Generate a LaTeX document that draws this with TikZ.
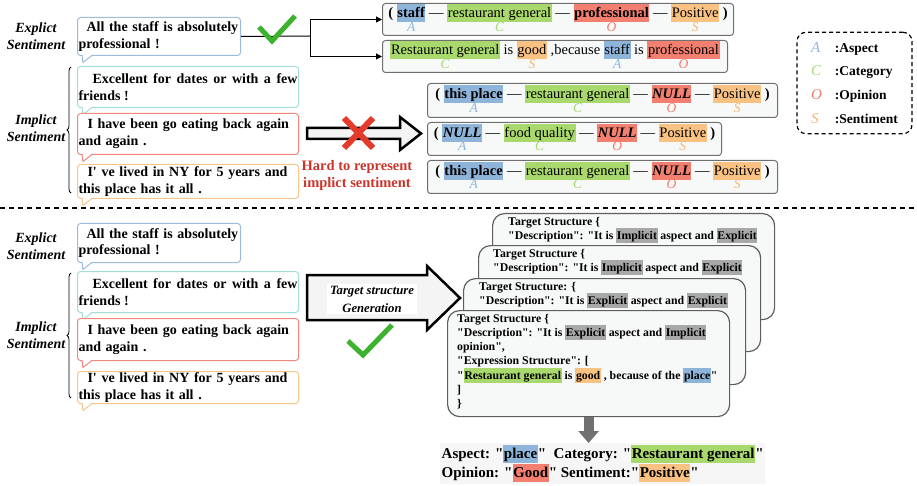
\documentclass[tikz,border=0pt]{standalone}
\usepackage{fontspec}
\setmainfont{Liberation Serif}[Ligatures=TeXOff]
\usepackage{xcolor}
\usetikzlibrary{calc,positioning,arrows.meta,decorations.pathreplacing}

\definecolor{asp}{HTML}{8FB4DA}
\definecolor{cat}{HTML}{A9D96C}
\definecolor{opi}{HTML}{F27F70}
\definecolor{sen}{HTML}{F9C283}
\definecolor{aspL}{HTML}{8CB6E0}
\definecolor{catL}{HTML}{A6D874}
\definecolor{opiL}{HTML}{F07A6C}
\definecolor{senL}{HTML}{F5B674}
\definecolor{bubA}{HTML}{9DBCDC}
\definecolor{bubB}{HTML}{A3DDDB}
\definecolor{bubC}{HTML}{EF877E}
\definecolor{bubD}{HTML}{F7C48C}
\definecolor{boxline}{HTML}{6F6F6F}
\definecolor{boxfill}{HTML}{F7F8F8}
\definecolor{cardline}{HTML}{5E5E5E}
\definecolor{hlg}{HTML}{A8A8A8}
\definecolor{okgreen}{HTML}{3DB22F}
\definecolor{nored}{HTML}{E23B2C}
\definecolor{hardred}{HTML}{C9352B}
\definecolor{arrowfill}{HTML}{F4F4F4}
\definecolor{downgray}{HTML}{707070}
\definecolor{resfill}{HTML}{F6F6F6}

\newcommand{\dsh}{\textemdash}
\newcommand{\hlx}[2]{{\setlength{\fboxsep}{0.6pt}\colorbox{#1}{\rule[-0.26em]{0pt}{1.16em}#2}}}
\newcommand{\tg}[4]{{\renewcommand{\arraystretch}{0.8}\begin{tabular}[t]{@{}c@{}}\hlx{#1}{#4}\\[0.2pt]{\color{#2}\fontsize{13.5}{13}\selectfont\mdseries\itshape #3}\end{tabular}}}
\newcommand{\bubtail}[2]{%
  \fill[white] ($(#1.south west)+(5.5,-1.4)$) -- ++(0.6,8.2) -- ++(8.6,-8.2) -- cycle;
  \draw[#2, line width=1pt, line join=round] ($(#1.south west)+(5,-0.5)$) -- ++(1,7) -- ++(9,-7);}

\begin{document}
\begin{tikzpicture}[x=1pt,y=-1pt,
  side/.style={font=\fontsize{14}{16.7}\selectfont\bfseries\itshape, align=center},
  bub/.style={draw=#1, line width=1pt, fill=white, rounded corners=3pt, anchor=north west, inner xsep=1pt, inner ysep=1pt, align=left, font=\fontsize{14}{16.7}\selectfont\bfseries},
  tup/.style={draw=boxline, line width=1pt, fill=boxfill, rounded corners=3pt, anchor=north west, inner xsep=1pt, inner ysep=0.5pt, font=\fontsize{14.5}{16}\selectfont},
  conn/.style={line width=1pt, -{Triangle[length=6pt,width=6pt]}},
  tick/.style={draw=okgreen, line width=5pt},
  cross/.style={draw=nored, line width=6pt},
  hollow/.style={draw=black, line width=2.5pt, fill=arrowfill, line join=miter},
  card/.style={draw=cardline, line width=1.2pt, fill=boxfill, rounded corners=12pt, anchor=north west, minimum width=282pt, minimum height=106pt},
  ctext/.style={anchor=north west, inner sep=0pt, align=left, font=\fontsize{11.8}{14.2}\selectfont\bfseries},
  brc/.style={decorate, decoration={brace, amplitude=4pt}, line width=0.8pt}]
\useasboundingbox (0,0) rectangle (917,486);

\node[side] (es1) at (36,36.5) {Explict\\Sentiment};
\node[side] (is1) at (36,128.5) {Implict\\Sentiment};
\draw[brc] (71,193) -- (71,67);

\node[bub=bubA, text width=161pt, minimum height=38pt] (b1) at (77,17) {\mbox{\hspace*{8pt}All the staff is absolutely}\\professional !};
\bubtail{b1}{bubA}
\node[bub=bubB, text width=219pt, minimum height=41pt, align=justify] (b2) at (77,66) {\hspace*{14pt}Excellent for dates or with a few\linebreak friends !};
\bubtail{b2}{bubB}
\node[bub=bubC, text width=219pt, minimum height=41pt] (b3) at (77,113) {\mbox{\hspace*{9pt}I have been go eating back again}\\and again .};
\bubtail{b3}{bubC}
\node[bub=bubD, text width=219pt, minimum height=34pt] (b4) at (77,164) {\mbox{\hspace*{9pt}I' ve lived in NY for 5 years and}\\this place has it all .};
\bubtail{b4}{bubD}

\node[tup, minimum width=351pt, minimum height=32pt] (t1) at (382,3) {{\bfseries(} \tg{asp}{aspL}{A}{\bfseries staff} \dsh{} \tg{cat}{catL}{C}{restaurant general} \dsh{} \tg{opi}{opiL}{O}{\bfseries professional} \dsh{} \tg{sen}{senL}{S}{Positive} {\bfseries)}};
\node[tup, minimum width=345pt, minimum height=32pt] (t2) at (382,40) {\tg{cat}{catL}{C}{Restaurant general} is \tg{sen}{senL}{S}{good} ,because \tg{asp}{aspL}{A}{staff} is \tg{opi}{opiL}{O}{professional}};
\node[tup, minimum width=350pt, minimum height=34pt] (t3) at (427,83) {{\bfseries(} \tg{asp}{aspL}{A}{\bfseries this place} \dsh{} \tg{cat}{catL}{C}{restaurant general} \dsh{} \tg{opi}{opiL}{O}{\bfseries\itshape NULL} \dsh{} \tg{sen}{senL}{S}{Positive} {\bfseries)}};
\node[tup, minimum width=294pt, minimum height=33pt] (t4) at (427,122) {{\bfseries(} \tg{asp}{aspL}{A}{\bfseries\itshape NULL} \dsh{} \tg{cat}{catL}{C}{food quality} \dsh{} \tg{opi}{opiL}{O}{\bfseries\itshape NULL} \dsh{} \tg{sen}{senL}{S}{Positive} {\bfseries)}};
\node[tup, minimum width=350pt, minimum height=33pt] (t5) at (427,160) {{\bfseries(} \tg{asp}{aspL}{A}{\bfseries this place} \dsh{} \tg{cat}{catL}{C}{restaurant general} \dsh{} \tg{opi}{opiL}{O}{\bfseries\itshape NULL} \dsh{} \tg{sen}{senL}{S}{Positive} {\bfseries)}};

\coordinate (fork) at (310,36);
\draw[line width=1pt] (b1.east) -- (fork);
\draw[conn] (fork) |- (t1.west);
\draw[conn] (fork) |- (t2.west);
\draw[tick] (259,27) -- (272,41) -- (295,16);

\draw[hollow] (307,128) -- (400,128) -- (400,117) -- (421,133.5) -- (400,150) -- (400,139) -- (307,139) -- cycle;
\draw[cross] (344,118) -- (373,148) (373,118) -- (344,148);
\node[font=\fontsize{14.5}{17}\selectfont\bfseries, text=hardred, align=center] (hard) at (357,176) {Hard to represent\\implict sentiment};

\node[draw, dash pattern=on 4pt off 3pt, line width=1.2pt, rounded corners=9pt, minimum width=115pt, minimum height=100pt, font=\fontsize{13.5}{16}\selectfont\bfseries] (key) at (854.5,83) {\renewcommand{\arraystretch}{1.48}\begin{tabular}{@{}l@{\hspace{13pt}}l@{}}
{\color{aspL}\mdseries\itshape\fontsize{15}{16}\selectfont A} & :Aspect\\
{\color{catL}\mdseries\itshape\fontsize{15}{16}\selectfont C} & :Category\\
{\color{opiL}\mdseries\itshape\fontsize{15}{16}\selectfont O} & :Opinion\\
{\color{senL}\mdseries\itshape\fontsize{15}{16}\selectfont S} & :Sentiment
\end{tabular}};

\draw[line width=1.3pt, dash pattern=on 5pt off 4pt] (0,208) -- (917,208);

\node[side] (es2) at (36,246.5) {Explict\\Sentiment};
\node[side] (is2) at (36,335) {Implict\\Sentiment};
\draw[brc] (71,398) -- (71,273);

\node[bub=bubA, text width=161pt, minimum height=39pt] (b5) at (77,223) {\mbox{\hspace*{8pt}All the staff is absolutely}\\professional !};
\bubtail{b5}{bubA}
\node[bub=bubB, text width=219pt, minimum height=41pt, align=justify] (b6) at (77,271) {\hspace*{14pt}Excellent for dates or with a few\linebreak friends !};
\bubtail{b6}{bubB}
\node[bub=bubC, text width=219pt, minimum height=42pt] (b7) at (77,318) {\mbox{\hspace*{9pt}I have been go eating back again}\\and again .};
\bubtail{b7}{bubC}
\node[bub=bubD, text width=219pt, minimum height=32pt] (b8) at (77,371) {\mbox{\hspace*{9pt}I' ve lived in NY for 5 years and}\\this place has it all .};
\bubtail{b8}{bubD}

\draw[hollow] (307,275) -- (427,275) -- (427,266) -- (460,298) -- (427,330) -- (427,320) -- (307,320) -- cycle;
\node[fill=white, inner xsep=3pt, inner ysep=2pt, align=center, font=\fontsize{12.7}{18}\selectfont\bfseries\itshape] (gen) at (372,299) {Target structure\\Generation};
\draw[tick] (348,341) -- (363,355) -- (392,325);

\node[card] (c1) at (492,213) {};
\node[ctext] (c1t) at ($(c1.north west)+(16,4)$) {Target Structure \{\\"Description": "It is \hlx{hlg}{Implicit} aspect and \hlx{hlg}{Explicit}};
\node[card] (c2) at (478,245) {};
\node[ctext] (c2t) at ($(c2.north west)+(15,4)$) {Target Structure \{\\"Description": "It is \hlx{hlg}{Implicit} aspect and \hlx{hlg}{Explicit}};
\node[card] (c3) at (463,278) {};
\node[ctext] (c3t) at ($(c3.north west)+(16,4)$) {Target Structure: \{\\"Description": "It is \hlx{hlg}{Explicit} aspect and \hlx{hlg}{Explicit}};
\node[card] (c4) at (447,310) {};
\node[ctext] (c4t) at ($(c4.north west)+(10,4)$) {Target Structure \{\\"Description": "It is \hlx{hlg}{Explicit} aspect and \hlx{hlg}{Implicit}\\opinion",\\"Expression Structure": [\\"\hlx{cat}{Restaurant general} is \hlx{sen}{good} , because of the \hlx{asp}{place}"\\]\\\}};

\node[anchor=north west, fill=resfill, inner sep=1.5pt, align=left, font=\fontsize{15}{19}\selectfont\bfseries] (res) at (440,443) {Aspect: "\hlx{asp}{place}"\ \ Category: "\hlx{cat}{Restaurant general}"\\Opinion: "\hlx{opi}{Good}" Sentiment:"\hlx{sen}{Positive}"};
\draw[line width=10pt, downgray, -{Triangle[length=12pt,width=20pt]}] (c4.south) -- (c4.south |- res.north);
\end{tikzpicture}
\end{document}
